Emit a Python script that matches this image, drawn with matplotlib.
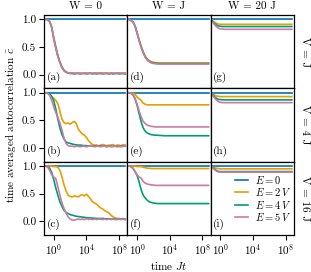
import numpy as np
import matplotlib
matplotlib.use("Agg")
import matplotlib.pyplot as plt
from matplotlib.ticker import NullLocator, FixedLocator, FormatStrFormatter

plt.rcParams['font.family'] = 'serif'
plt.rcParams['font.serif'] = ['cmr10', 'DejaVu Serif']
plt.rcParams['mathtext.fontset'] = 'cm'
plt.rcParams['axes.formatter.use_mathtext'] = True
plt.rcParams['font.size'] = 8

# time grid, log10(J t)
log_t = np.arange(-1.25, 8.76, 0.25)

col_titles = ['W = 0', 'W = J', 'W = 20 J']
row_titles = ['V = J', 'V = 4 J', 'V = 16 J']
panel_tags = [['(a)', '(d)', '(g)'], ['(b)', '(e)', '(h)'], ['(c)', '(f)', '(i)']]
legend_labels = [r'$E = 0$', r'$E = 2\,V$', r'$E = 4\,V$', r'$E = 5\,V$']
colors = ['#0072B2', '#E69F00', '#009E73', '#CC79A7']

e0 = [1.0] * len(log_t)

# ---- W = 0 ----
orange_a = [1.0, 1.0, 0.99, 0.96, 0.86, 0.67, 0.50, 0.35, 0.23, 0.14,
            0.08, 0.05, 0.03, 0.03, 0.02, 0.03, 0.02, 0.02, 0.03, 0.02,
            0.02, 0.03, 0.02, 0.03, 0.02, 0.02, 0.03, 0.02, 0.02, 0.03,
            0.02, 0.02, 0.02, 0.03, 0.02, 0.02, 0.03, 0.02, 0.02, 0.02, 0.03]
green_a = [1.0, 1.0, 0.99, 0.96, 0.85, 0.65, 0.48, 0.33, 0.22, 0.13,
           0.07, 0.04, 0.03, 0.02, 0.02, 0.01, 0.02, 0.02, 0.01, 0.02,
           0.02, 0.01, 0.02, 0.02, 0.01, 0.02, 0.01, 0.02, 0.02, 0.01,
           0.02, 0.02, 0.01, 0.02, 0.01, 0.02, 0.02, 0.01, 0.02, 0.02, 0.01]
pink_a = [1.0, 1.0, 0.99, 0.96, 0.85, 0.64, 0.47, 0.32, 0.21, 0.12,
          0.07, 0.04, 0.03, 0.02, 0.03, 0.02, 0.02, 0.03, 0.02, 0.02,
          0.03, 0.02, 0.02, 0.03, 0.02, 0.03, 0.02, 0.02, 0.03, 0.02,
          0.02, 0.03, 0.02, 0.02, 0.03, 0.02, 0.02, 0.03, 0.02, 0.02, 0.02]

orange_b = [1.0, 1.0, 0.99, 0.97, 0.93, 0.90, 0.86, 0.80, 0.66, 0.52,
            0.46, 0.44, 0.45, 0.43, 0.46, 0.48, 0.44, 0.34, 0.29, 0.25,
            0.23, 0.19, 0.13, 0.09, 0.06, 0.05, 0.05, 0.04, 0.05, 0.06,
            0.05, 0.04, 0.05, 0.05, 0.06, 0.04, 0.05, 0.05, 0.04, 0.06, 0.05]
green_b = [1.0, 1.0, 1.0, 0.98, 0.93, 0.85, 0.70, 0.52, 0.36, 0.24,
           0.16, 0.11, 0.09, 0.08, 0.07, 0.06, 0.055, 0.05, 0.05, 0.045,
           0.04, 0.04, 0.035, 0.04, 0.03, 0.035, 0.03, 0.03, 0.035, 0.03,
           0.03, 0.025, 0.03, 0.03, 0.025, 0.03, 0.03, 0.025, 0.03, 0.03, 0.03]
pink_b = [1.0, 1.0, 0.99, 0.95, 0.86, 0.74, 0.64, 0.55, 0.45, 0.32,
          0.18, 0.08, 0.04, 0.03, 0.03, 0.02, 0.03, 0.03, 0.02, 0.03,
          0.03, 0.02, 0.03, 0.04, 0.03, 0.02, 0.03, 0.03, 0.02, 0.03,
          0.03, 0.02, 0.03, 0.02, 0.03, 0.03, 0.02, 0.03, 0.02, 0.03, 0.03]

orange_c = [1.0, 1.0, 1.0, 1.0, 1.0, 0.99, 0.99, 0.98, 0.92, 0.80,
            0.66, 0.55, 0.47, 0.45, 0.44, 0.46, 0.45, 0.44, 0.47, 0.48,
            0.46, 0.49, 0.45, 0.40, 0.35, 0.33, 0.31, 0.27, 0.24, 0.22,
            0.19, 0.17, 0.15, 0.11, 0.08, 0.06, 0.05, 0.05, 0.04, 0.05, 0.04]
green_c = [1.0, 1.0, 0.99, 0.96, 0.88, 0.75, 0.60, 0.47, 0.35, 0.27,
           0.20, 0.16, 0.14, 0.12, 0.11, 0.10, 0.09, 0.085, 0.08, 0.075,
           0.07, 0.065, 0.06, 0.06, 0.055, 0.055, 0.05, 0.05, 0.05, 0.05,
           0.045, 0.045, 0.04, 0.04, 0.04, 0.04, 0.04, 0.035, 0.04, 0.035, 0.035]
pink_c = [1.0, 1.0, 0.98, 0.92, 0.84, 0.80, 0.77, 0.62, 0.47, 0.33,
          0.23, 0.15, 0.08, 0.04, 0.02, 0.02, 0.03, 0.04, 0.03, 0.04,
          0.03, 0.05, 0.03, 0.04, 0.03, 0.04, 0.03, 0.04, 0.04, 0.03,
          0.04, 0.03, 0.04, 0.03, 0.04, 0.03, 0.03, 0.04, 0.03, 0.04, 0.03]

# ---- W = J ----
orange_d = [1.0, 1.0, 0.98, 0.95, 0.88, 0.76, 0.63, 0.51, 0.41, 0.33,
            0.28, 0.25, 0.23, 0.22, 0.215, 0.21, 0.21, 0.21, 0.21, 0.21,
            0.21, 0.21, 0.21, 0.21, 0.21, 0.21, 0.21, 0.21, 0.21, 0.21,
            0.21, 0.21, 0.21, 0.21, 0.21, 0.21, 0.21, 0.21, 0.21, 0.21, 0.21]
green_d = [1.0, 1.0, 0.98, 0.95, 0.88, 0.75, 0.62, 0.50, 0.40, 0.32,
           0.27, 0.24, 0.22, 0.21, 0.205, 0.20, 0.20, 0.20, 0.20, 0.20,
           0.20, 0.20, 0.20, 0.20, 0.20, 0.20, 0.20, 0.20, 0.20, 0.20,
           0.20, 0.20, 0.20, 0.20, 0.20, 0.20, 0.20, 0.20, 0.20, 0.20, 0.20]
pink_d = [1.0, 1.0, 0.98, 0.95, 0.88, 0.75, 0.61, 0.49, 0.39, 0.31,
          0.26, 0.23, 0.21, 0.20, 0.195, 0.19, 0.19, 0.19, 0.19, 0.19,
          0.19, 0.19, 0.19, 0.19, 0.19, 0.19, 0.19, 0.19, 0.19, 0.19,
          0.19, 0.19, 0.19, 0.19, 0.19, 0.19, 0.19, 0.19, 0.19, 0.19, 0.19]

orange_e = [1.0, 1.0, 1.0, 0.99, 0.97, 0.92, 0.89, 0.86, 0.81, 0.79,
            0.78, 0.78, 0.78, 0.78, 0.78, 0.78, 0.78, 0.78, 0.78, 0.78,
            0.78, 0.78, 0.78, 0.78, 0.78, 0.78, 0.78, 0.78, 0.78, 0.78,
            0.78, 0.78, 0.78, 0.78, 0.78, 0.78, 0.78, 0.78, 0.78, 0.78, 0.78]
green_e = [1.0, 1.0, 0.99, 0.96, 0.89, 0.77, 0.62, 0.47, 0.36, 0.30,
           0.27, 0.25, 0.24, 0.235, 0.23, 0.23, 0.225, 0.225, 0.22, 0.22,
           0.22, 0.22, 0.22, 0.22, 0.22, 0.22, 0.22, 0.22, 0.22, 0.22,
           0.22, 0.22, 0.22, 0.22, 0.22, 0.22, 0.22, 0.22, 0.22, 0.22, 0.22]
pink_e = [1.0, 1.0, 0.99, 0.96, 0.89, 0.79, 0.67, 0.56, 0.48, 0.44,
          0.41, 0.40, 0.39, 0.385, 0.38, 0.38, 0.38, 0.38, 0.38, 0.38,
          0.38, 0.38, 0.38, 0.38, 0.38, 0.38, 0.38, 0.38, 0.38, 0.38,
          0.38, 0.38, 0.38, 0.38, 0.38, 0.38, 0.38, 0.38, 0.38, 0.38, 0.38]

orange_f = [1.0, 1.0, 1.0, 1.0, 1.0, 0.99, 0.99, 0.99, 0.98, 0.97,
            0.96, 0.96, 0.955, 0.955, 0.955, 0.955, 0.955, 0.955, 0.955, 0.955,
            0.955, 0.955, 0.955, 0.955, 0.955, 0.955, 0.955, 0.955, 0.955, 0.955,
            0.955, 0.955, 0.955, 0.955, 0.955, 0.955, 0.955, 0.955, 0.955, 0.955, 0.955]
green_f = [1.0, 1.0, 0.99, 0.96, 0.90, 0.83, 0.71, 0.57, 0.47, 0.42,
           0.38, 0.35, 0.34, 0.33, 0.325, 0.32, 0.32, 0.32, 0.32, 0.32,
           0.32, 0.32, 0.32, 0.32, 0.32, 0.32, 0.32, 0.32, 0.32, 0.32,
           0.32, 0.32, 0.32, 0.32, 0.32, 0.32, 0.32, 0.32, 0.32, 0.32, 0.32]
pink_f = [1.0, 1.0, 0.99, 0.96, 0.90, 0.84, 0.80, 0.78, 0.72, 0.69,
          0.675, 0.665, 0.66, 0.655, 0.65, 0.65, 0.65, 0.65, 0.65, 0.65,
          0.65, 0.65, 0.65, 0.65, 0.65, 0.65, 0.65, 0.65, 0.65, 0.65,
          0.65, 0.65, 0.65, 0.65, 0.65, 0.65, 0.65, 0.65, 0.65, 0.65, 0.65]

# ---- W = 20 J ----
orange_g = [1.0, 0.98, 0.95, 0.93, 0.915, 0.91, 0.91, 0.91, 0.91, 0.91,
            0.91, 0.91, 0.91, 0.91, 0.91, 0.91, 0.91, 0.91, 0.91, 0.91,
            0.91, 0.91, 0.91, 0.91, 0.91, 0.91, 0.91, 0.91, 0.91, 0.91,
            0.91, 0.91, 0.91, 0.91, 0.91, 0.91, 0.91, 0.91, 0.91, 0.91, 0.91]
green_g = [1.0, 0.97, 0.93, 0.90, 0.88, 0.875, 0.87, 0.87, 0.87, 0.87,
           0.87, 0.87, 0.87, 0.87, 0.87, 0.87, 0.87, 0.87, 0.87, 0.87,
           0.87, 0.87, 0.87, 0.87, 0.87, 0.87, 0.87, 0.87, 0.87, 0.87,
           0.87, 0.87, 0.87, 0.87, 0.87, 0.87, 0.87, 0.87, 0.87, 0.87, 0.87]
pink_g = [1.0, 0.96, 0.91, 0.87, 0.84, 0.83, 0.825, 0.82, 0.82, 0.82,
          0.82, 0.82, 0.82, 0.82, 0.82, 0.82, 0.82, 0.82, 0.82, 0.82,
          0.82, 0.82, 0.82, 0.82, 0.82, 0.82, 0.82, 0.82, 0.82, 0.82,
          0.82, 0.82, 0.82, 0.82, 0.82, 0.82, 0.82, 0.82, 0.82, 0.82, 0.82]

orange_h = [1.0, 0.98, 0.96, 0.94, 0.935, 0.93, 0.93, 0.93, 0.93, 0.93,
            0.93, 0.93, 0.93, 0.93, 0.93, 0.93, 0.93, 0.93, 0.93, 0.93,
            0.93, 0.93, 0.93, 0.93, 0.93, 0.93, 0.93, 0.93, 0.93, 0.93,
            0.93, 0.93, 0.93, 0.93, 0.93, 0.93, 0.93, 0.93, 0.93, 0.93, 0.93]
green_h = [1.0, 0.97, 0.93, 0.90, 0.88, 0.875, 0.87, 0.87, 0.87, 0.87,
           0.87, 0.87, 0.87, 0.87, 0.87, 0.87, 0.87, 0.87, 0.87, 0.87,
           0.87, 0.87, 0.87, 0.87, 0.87, 0.87, 0.87, 0.87, 0.87, 0.87,
           0.87, 0.87, 0.87, 0.87, 0.87, 0.87, 0.87, 0.87, 0.87, 0.87, 0.87]
pink_h = [1.0, 0.96, 0.91, 0.87, 0.84, 0.825, 0.82, 0.82, 0.82, 0.82,
          0.82, 0.82, 0.82, 0.82, 0.82, 0.82, 0.82, 0.82, 0.82, 0.82,
          0.82, 0.82, 0.82, 0.82, 0.82, 0.82, 0.82, 0.82, 0.82, 0.82,
          0.82, 0.82, 0.82, 0.82, 0.82, 0.82, 0.82, 0.82, 0.82, 0.82, 0.82]

orange_i = [1.0, 0.99, 0.97, 0.96, 0.955, 0.95, 0.95, 0.95, 0.95, 0.95,
            0.95, 0.95, 0.95, 0.95, 0.95, 0.95, 0.95, 0.95, 0.95, 0.95,
            0.95, 0.95, 0.95, 0.95, 0.95, 0.95, 0.95, 0.95, 0.95, 0.95,
            0.95, 0.95, 0.95, 0.95, 0.95, 0.95, 0.95, 0.95, 0.95, 0.95, 0.95]
green_i = [1.0, 0.98, 0.95, 0.92, 0.905, 0.90, 0.90, 0.90, 0.90, 0.90,
           0.90, 0.90, 0.90, 0.90, 0.90, 0.90, 0.90, 0.90, 0.90, 0.90,
           0.90, 0.90, 0.90, 0.90, 0.90, 0.90, 0.90, 0.90, 0.90, 0.90,
           0.90, 0.90, 0.90, 0.90, 0.90, 0.90, 0.90, 0.90, 0.90, 0.90, 0.90]
pink_i = [1.0, 0.97, 0.94, 0.91, 0.895, 0.89, 0.89, 0.89, 0.89, 0.89,
          0.89, 0.89, 0.89, 0.89, 0.89, 0.89, 0.89, 0.89, 0.89, 0.89,
          0.89, 0.89, 0.89, 0.89, 0.89, 0.89, 0.89, 0.89, 0.89, 0.89,
          0.89, 0.89, 0.89, 0.89, 0.89, 0.89, 0.89, 0.89, 0.89, 0.89, 0.89]

panels = [
    [[e0, orange_a, green_a, pink_a], [e0, orange_d, green_d, pink_d], [e0, orange_g, green_g, pink_g]],
    [[e0, orange_b, green_b, pink_b], [e0, orange_e, green_e, pink_e], [e0, orange_h, green_h, pink_h]],
    [[e0, orange_c, green_c, pink_c], [e0, orange_f, green_f, pink_f], [e0, orange_i, green_i, pink_i]],
]

t = 10 ** log_t

fig, axes = plt.subplots(3, 3, figsize=(3.11, 2.72), dpi=100, sharex=True, sharey=True)
fig.subplots_adjust(left=0.1415, right=0.945, top=0.945, bottom=0.136, wspace=0, hspace=0)

for r in range(3):
    for c in range(3):
        ax = axes[r, c]
        for k, series in enumerate(panels[r][c]):
            assert len(series) == len(t)
            ax.plot(t, series, color=colors[k], lw=1.2, label=legend_labels[k])
        ax.set_xscale('log')
        ax.set_xlim(10 ** -1.2, 10 ** 9)
        ax.set_ylim(-0.25, 1.08)
        ax.xaxis.set_major_locator(FixedLocator([1, 1e4, 1e8]))
        ax.xaxis.set_minor_locator(NullLocator())
        ax.yaxis.set_major_locator(FixedLocator([0.0, 0.5, 1.0]))
        ax.yaxis.set_major_formatter(FormatStrFormatter('%.1f'))
        for sp in ax.spines.values():
            sp.set_linewidth(0.9)
        ax.tick_params(direction='out', length=3.5, width=0.8, pad=2,
                       left=(c == 0), labelleft=(c == 0),
                       bottom=(r == 2), labelbottom=(r == 2))
        ax.text(0.03, 0.07, panel_tags[r][c], transform=ax.transAxes, ha='left', va='bottom')
        if r == 0:
            ax.set_title(col_titles[c], fontsize=8, pad=4)
        if c == 2:
            ax.text(1.07, 0.5, row_titles[r], transform=ax.transAxes, rotation=270,
                    ha='left', va='center')

axes[1, 0].set_ylabel(r'time averaged autocorrelation $\bar{c}$', labelpad=3)
axes[2, 1].set_xlabel(r'time $Jt$', labelpad=2)

axes[2, 2].legend(loc='lower right', bbox_to_anchor=(1.0, 0.12), frameon=False, fontsize=7.5,
                  handlelength=1.3, handletextpad=0.6, labelspacing=0.05, borderpad=0.2,
                  borderaxespad=0.1)

fig.savefig('out.png', dpi=100)
